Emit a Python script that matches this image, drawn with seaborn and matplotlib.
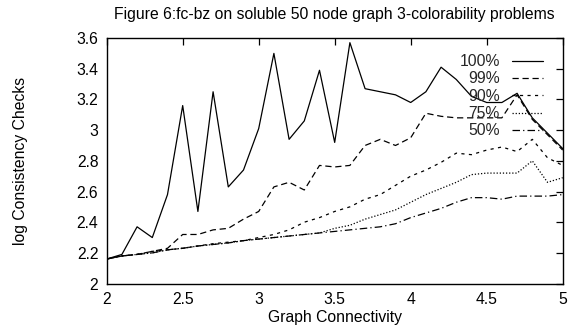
import numpy as np
import pandas as pd
import matplotlib
matplotlib.use("Agg")
import matplotlib.pyplot as plt
import seaborn as sns
from matplotlib.ticker import FormatStrFormatter

connectivity = [2.0, 2.1, 2.2, 2.3, 2.4, 2.5, 2.6, 2.7, 2.8, 2.9,
                3.0, 3.1, 3.2, 3.3, 3.4, 3.5, 3.6, 3.7, 3.8, 3.9,
                4.0, 4.1, 4.2, 4.3, 4.4, 4.5, 4.6, 4.7, 4.8, 4.9, 5.0]

p100 = [2.16, 2.19, 2.37, 2.30, 2.58, 3.16, 2.47, 3.25, 2.63, 2.74,
        3.01, 3.50, 2.94, 3.06, 3.39, 2.92, 3.57, 3.27, 3.25, 3.23,
        3.18, 3.25, 3.41, 3.33, 3.22, 3.18, 3.18, 3.24, 3.08, 2.98, 2.88]
p99 = [2.16, 2.18, 2.19, 2.21, 2.23, 2.32, 2.32, 2.35, 2.36, 2.42,
       2.47, 2.63, 2.66, 2.61, 2.77, 2.76, 2.77, 2.90, 2.94, 2.90,
       2.95, 3.11, 3.09, 3.08, 3.08, 3.08, 3.08, 3.23, 3.07, 2.97, 2.87]
p90 = [2.16, 2.18, 2.19, 2.21, 2.22, 2.23, 2.245, 2.26, 2.27, 2.28,
       2.30, 2.32, 2.35, 2.40, 2.43, 2.47, 2.50, 2.55, 2.58, 2.64,
       2.70, 2.74, 2.79, 2.85, 2.84, 2.87, 2.89, 2.86, 2.94, 2.82, 2.77]
p75 = [2.16, 2.18, 2.19, 2.20, 2.22, 2.23, 2.245, 2.255, 2.265, 2.28,
       2.29, 2.30, 2.31, 2.32, 2.33, 2.36, 2.38, 2.42, 2.45, 2.48,
       2.53, 2.58, 2.62, 2.66, 2.71, 2.72, 2.72, 2.72, 2.80, 2.66, 2.69]
p50 = [2.16, 2.18, 2.19, 2.20, 2.22, 2.23, 2.245, 2.255, 2.265, 2.28,
       2.29, 2.30, 2.31, 2.32, 2.33, 2.34, 2.35, 2.36, 2.37, 2.39,
       2.43, 2.46, 2.49, 2.53, 2.56, 2.56, 2.55, 2.57, 2.57, 2.57, 2.58]

series_names = ["100%", "99%", "90%", "75%", "50%"]
series_values = [p100, p99, p90, p75, p50]

x_ticks = [2, 2.5, 3, 3.5, 4, 4.5, 5]
y_ticks = [2, 2.2, 2.4, 2.6, 2.8, 3, 3.2, 3.4, 3.6]

sns.set_theme(style="white")
plt.rcParams["font.family"] = ["Liberation Sans", "DejaVu Sans"]

rows = []
for name, vals in zip(series_names, series_values):
    for xv, yv in zip(connectivity, vals):
        rows.append({"Graph Connectivity": xv, "value": yv, "series": name})
df = pd.DataFrame(rows)

dash_map = {
    "100%": "",
    "99%": (5, 3),
    "90%": (2.5, 3.5),
    "75%": (1, 1.5),
    "50%": (6, 2.5, 1, 2.5),
}

FS = 11.3

fig = plt.figure(figsize=(5.84, 3.28), dpi=100)
ax = fig.add_axes([0.1827, 0.1354, 0.7808, 0.7486])

sns.lineplot(data=df, x="Graph Connectivity", y="value", style="series",
             style_order=series_names, dashes=dash_map, color="black",
             linewidth=0.9, ax=ax, legend=True)

ax.set_xlim(2, 5)
ax.set_ylim(2, 3.6)
ax.set_xticks(x_ticks)
ax.set_yticks(y_ticks)
ax.xaxis.set_major_formatter(FormatStrFormatter("%g"))
ax.yaxis.set_major_formatter(FormatStrFormatter("%g"))
ax.tick_params(direction="in", length=5, width=0.9, top=True, right=True,
               labelsize=FS, colors="black", pad=6)
ax.tick_params(axis="y", pad=6)
for s in ax.spines.values():
    s.set_color("black")
    s.set_linewidth(1.0)

ax.set_xlabel("Graph Connectivity", fontsize=FS, color="black", labelpad=2)
ax.set_ylabel("log Consistency Checks", fontsize=FS, color="black", labelpad=35)
ax.set_title("Figure 6:fc-bz on soluble 50 node graph 3-colorability problems",
             fontsize=FS, color="black", pad=14)

handles, labels = ax.get_legend_handles_labels()
ax.legend(handles=handles, labels=labels, loc="upper right",
          bbox_to_anchor=(0.957, 0.935), frameon=False, markerfirst=False,
          fontsize=FS, handlelength=2.0, labelspacing=0.15,
          handletextpad=0.75, borderaxespad=0, borderpad=0)

fig.savefig("out.png", dpi=100)
